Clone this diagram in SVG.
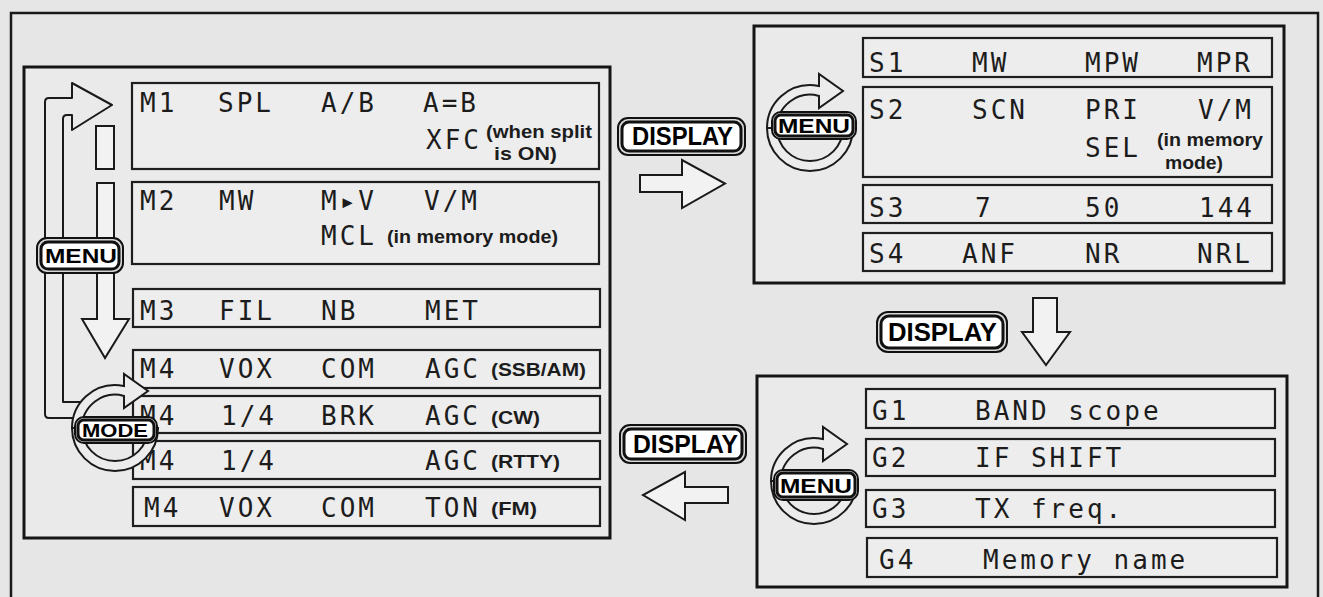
<svg xmlns="http://www.w3.org/2000/svg" width="1323" height="597" viewBox="0 0 1323 597">
<style>
.bg{fill:#e6e6e6}
.frame{fill:none;stroke:#1a1a1a;stroke-width:2.5}
.panel{fill:#eaeaea;stroke:#151515;stroke-width:3}
.row{fill:#ededed;stroke:#1e1e1e;stroke-width:2.2}
.lcd{font-family:"DejaVu Sans Mono","Liberation Mono",monospace;font-size:26px;letter-spacing:3px;fill:#1c1c1c}
.note{font-family:"Liberation Sans",Arial,sans-serif;font-weight:bold;font-size:19px;fill:#1c1c1c}
.key{font-family:"Liberation Sans",Arial,sans-serif;font-weight:bold;fill:#000}
.kout{fill:#d8d8d8;stroke:#111;stroke-width:2}
.kin{fill:#fff;stroke:#111;stroke-width:3}
.arrow{fill:#f2f2f2;stroke:#1a1a1a;stroke-width:2;stroke-linejoin:miter}
.line{fill:none;stroke:#1a1a1a;stroke-width:2;stroke-linejoin:round}
.ring{fill:#ececec;stroke:#1a1a1a;stroke-width:2;stroke-linejoin:miter}
</style>
<defs>
<g id="ringsym">
<path class="ring" d="M -43 0 A 43 43 0 0 1 4 -42.8 L 9 -42 L 9 -54 L 33 -37 L 9 -20 L 9 -32 A 33 33 0 0 0 -33 0 Z"/>
<path class="ring" d="M -43 0 A 43 43 0 0 0 43 0 L 33 0 A 33 33 0 0 1 -33 0 Z"/>
</g>
</defs>
<rect class="bg" x="0" y="0" width="1323" height="597"/>
<rect class="frame" x="11" y="13" width="1307" height="600"/>

<!-- Left panel (M menus) -->
<g id="panel-m">
<rect class="panel" x="24" y="67" width="586" height="471"/>
</g>
<g id="row-m1">
<rect class="row" x="132" y="83" width="467" height="86"/>
<text class="lcd" x="140" y="112">M1</text>
<text class="lcd" x="218" y="112">SPL</text>
<text class="lcd" x="321" y="112">A/B</text>
<text class="lcd" x="423" y="112">A=B</text>
<text class="lcd" x="426" y="149" letter-spacing="1">XFC</text>
<text class="note" x="486" y="138" font-size="16" textLength="106" lengthAdjust="spacingAndGlyphs">(when split</text>
<text class="note" x="494" y="160" font-size="16" textLength="63" lengthAdjust="spacingAndGlyphs">is ON)</text>
</g>
<g id="row-m2">
<rect class="row" x="132" y="182" width="467" height="82"/>
<text class="lcd" x="140" y="210">M2</text>
<text class="lcd" x="219" y="210">MW</text>
<text class="lcd" x="321" y="210">M▸V</text>
<text class="lcd" x="424" y="210">V/M</text>
<text class="lcd" x="321" y="245">MCL</text>
<text class="note" x="387" y="243" textLength="171" lengthAdjust="spacingAndGlyphs">(in memory mode)</text>
</g>
<g id="row-m3">
<rect class="row" x="133" y="289" width="467" height="38"/>
<text class="lcd" x="140" y="320">M3</text>
<text class="lcd" x="219" y="320">FIL</text>
<text class="lcd" x="321" y="320">NB</text>
<text class="lcd" x="425" y="320">MET</text>
</g>
<g id="row-m4-ssb">
<rect class="row" x="133" y="350" width="467" height="38"/>
<text class="lcd" x="140" y="378">M4</text>
<text class="lcd" x="219" y="378">VOX</text>
<text class="lcd" x="321" y="378">COM</text>
<text class="lcd" x="425" y="378">AGC</text>
<text class="note" x="491" y="376" textLength="95" lengthAdjust="spacingAndGlyphs">(SSB/AM)</text>
</g>
<g id="row-m4-cw">
<rect class="row" x="133" y="396" width="467" height="37"/>
<text class="lcd" x="140" y="425">M4</text>
<text class="lcd" x="221" y="425">1/4</text>
<text class="lcd" x="321" y="425">BRK</text>
<text class="lcd" x="425" y="425">AGC</text>
<text class="note" x="491" y="424" textLength="49" lengthAdjust="spacingAndGlyphs">(CW)</text>
</g>
<g id="row-m4-rtty">
<rect class="row" x="133" y="441" width="467" height="38"/>
<text class="lcd" x="140" y="470">M4</text>
<text class="lcd" x="221" y="470">1/4</text>
<text class="lcd" x="425" y="470">AGC</text>
<text class="note" x="491" y="468" textLength="69" lengthAdjust="spacingAndGlyphs">(RTTY)</text>
</g>
<g id="row-m4-fm">
<rect class="row" x="133" y="487" width="467" height="39"/>
<text class="lcd" x="144" y="517">M4</text>
<text class="lcd" x="219" y="517">VOX</text>
<text class="lcd" x="321" y="517">COM</text>
<text class="lcd" x="425" y="517">TON</text>
<text class="note" x="491" y="515" textLength="46" lengthAdjust="spacingAndGlyphs">(FM)</text>
</g>

<!-- Top-right panel (S menus) -->
<g id="panel-s">
<rect class="panel" x="754" y="26" width="530" height="257"/>
</g>
<g id="row-s1">
<rect class="row" x="863" y="38" width="409" height="39"/>
<text class="lcd" x="869" y="72">S1</text>
<text class="lcd" x="972" y="72">MW</text>
<text class="lcd" x="1085" y="72">MPW</text>
<text class="lcd" x="1197" y="72">MPR</text>
</g>
<g id="row-s2">
<rect class="row" x="863" y="87" width="409" height="90"/>
<text class="lcd" x="869" y="119">S2</text>
<text class="lcd" x="972" y="119">SCN</text>
<text class="lcd" x="1085" y="119">PRI</text>
<text class="lcd" x="1198" y="119">V/M</text>
<text class="lcd" x="1085" y="157">SEL</text>
<text class="note" x="1157" y="146" textLength="106" lengthAdjust="spacingAndGlyphs">(in memory</text>
<text class="note" x="1165" y="169" textLength="58" lengthAdjust="spacingAndGlyphs">mode)</text>
</g>
<g id="row-s3">
<rect class="row" x="863" y="185" width="409" height="38"/>
<text class="lcd" x="869" y="217">S3</text>
<text class="lcd" x="975" y="217">7</text>
<text class="lcd" x="1085" y="217">50</text>
<text class="lcd" x="1199" y="217">144</text>
</g>
<g id="row-s4">
<rect class="row" x="863" y="233" width="409" height="38"/>
<text class="lcd" x="869" y="263">S4</text>
<text class="lcd" x="962" y="263">ANF</text>
<text class="lcd" x="1085" y="263">NR</text>
<text class="lcd" x="1197" y="263">NRL</text>
</g>

<!-- Bottom-right panel (G menus) -->
<g id="panel-g">
<rect class="panel" x="757" y="376" width="530" height="211"/>
</g>
<g id="row-g1">
<rect class="row" x="866" y="389" width="409" height="39"/>
<text class="lcd" x="872" y="420">G1</text>
<text class="lcd" x="975" y="420">BAND scope</text>
</g>
<g id="row-g2">
<rect class="row" x="866" y="439" width="409" height="37"/>
<text class="lcd" x="872" y="467">G2</text>
<text class="lcd" x="975" y="467">IF SHIFT</text>
</g>
<g id="row-g3">
<rect class="row" x="866" y="490" width="409" height="37"/>
<text class="lcd" x="872" y="518">G3</text>
<text class="lcd" x="975" y="518">TX freq.</text>
</g>
<g id="row-g4">
<rect class="row" x="867" y="538" width="410" height="39"/>
<text class="lcd" x="879" y="569">G4</text>
<text class="lcd" x="983" y="569">Memory name</text>
</g>

<!-- Connectors -->
<g id="connectors">
<path class="line" d="M 75 418 L 49 418 Q 45 418 45 414 L 45 102 Q 45 98 49 98 L 72 98 L 72 83 L 112 105 L 72 130 L 72 115 L 67 115 Q 63 115 63 119 L 63 402 L 85 402"/>
<rect class="arrow" x="96" y="126" width="18" height="43"/>
<polygon class="arrow" points="97,183 114,183 114,319 129,319 105,358 82,319 97,319"/>
<polygon class="arrow" points="640,175 682,175 682,160 725,183.5 682,208 682,192 640,192"/>
<polygon class="arrow" points="1033,298 1057,298 1057,332 1070,332 1046,365 1022,332 1033,332"/>
<polygon class="arrow" points="728,487 685,487 685,472 643,495 685,520 685,503 728,503"/>
</g>

<!-- Buttons -->
<g id="btn-menu-left">
<rect class="kout" x="37" y="238" width="86" height="35" rx="10"/>
<rect class="kin" x="41" y="242" width="78" height="27" rx="7"/>
<text class="key" x="45" y="263" font-size="21" textLength="72" lengthAdjust="spacingAndGlyphs">MENU</text>
</g>
<g id="btn-mode">
<use href="#ringsym" transform="translate(115,428)"/>
<rect class="kout" x="75" y="417" width="82" height="26" rx="9"/>
<rect class="kin" x="78" y="420" width="76" height="20" rx="6"/>
<text class="key" x="82" y="437" font-size="19" textLength="66" lengthAdjust="spacingAndGlyphs">MODE</text>
</g>
<g id="btn-display-top">
<rect class="kout" x="618" y="118" width="127" height="37" rx="10"/>
<rect class="kin" x="622" y="122" width="119" height="29" rx="7"/>
<text class="key" x="632" y="145" font-size="25" textLength="101" lengthAdjust="spacingAndGlyphs">DISPLAY</text>
</g>
<g id="btn-display-mid">
<rect class="kout" x="877" y="312" width="130" height="40" rx="11"/>
<rect class="kin" x="881" y="316" width="122" height="32" rx="8"/>
<text class="key" x="888" y="341" font-size="25" textLength="109" lengthAdjust="spacingAndGlyphs">DISPLAY</text>
</g>
<g id="btn-display-bottom">
<rect class="kout" x="620" y="425" width="126" height="38" rx="10"/>
<rect class="kin" x="624" y="429" width="118" height="30" rx="7"/>
<text class="key" x="633" y="453" font-size="25" textLength="105" lengthAdjust="spacingAndGlyphs">DISPLAY</text>
</g>
<g id="btn-menu-s">
<use href="#ringsym" transform="translate(810,128)"/>
<rect class="kout" x="772" y="112" width="84" height="27" rx="9"/>
<rect class="kin" x="775" y="115" width="78" height="21" rx="6"/>
<text class="key" x="778" y="133" font-size="20" textLength="72" lengthAdjust="spacingAndGlyphs">MENU</text>
</g>
<g id="btn-menu-g">
<use href="#ringsym" transform="translate(814,481)"/>
<rect class="kout" x="774" y="470" width="84" height="30" rx="9"/>
<rect class="kin" x="777" y="473" width="78" height="24" rx="6"/>
<text class="key" x="780" y="493" font-size="21" textLength="72" lengthAdjust="spacingAndGlyphs">MENU</text>
</g>
</svg>
